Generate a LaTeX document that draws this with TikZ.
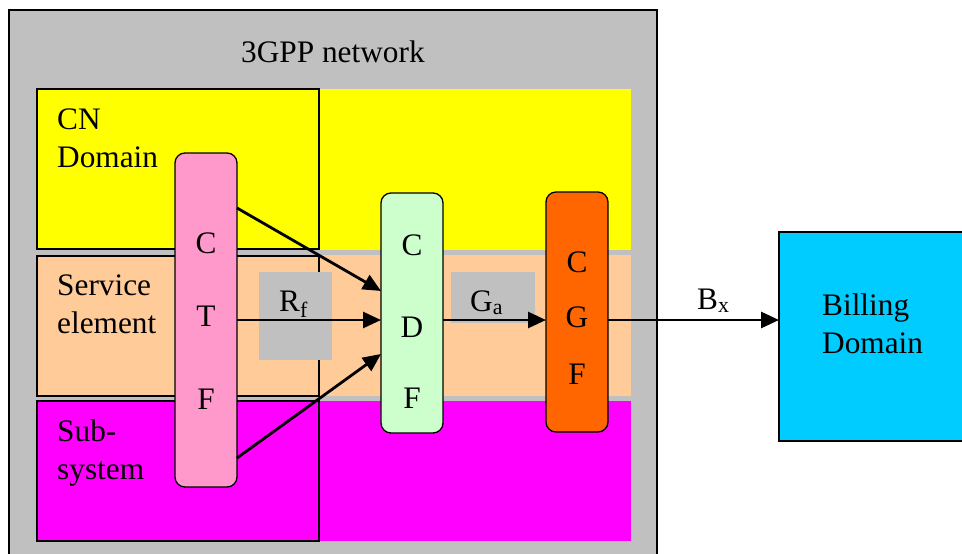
\documentclass[tikz,border=0pt]{standalone}
\usepackage{fontspec}
\setmainfont{Liberation Serif}
\usetikzlibrary{arrows.meta,calc}
\definecolor{gbg}{HTML}{C0C0C0}
\definecolor{cnyellow}{HTML}{FFFF00}
\definecolor{peach}{HTML}{FFCC99}
\definecolor{mag}{HTML}{FF00FF}
\definecolor{pinkf}{HTML}{FF99CC}
\definecolor{greenf}{HTML}{CCFFCC}
\definecolor{orangef}{HTML}{FF6600}
\definecolor{cyanf}{HTML}{00CCFF}
\begin{document}
\begin{tikzpicture}[x=1pt,y=-1pt,
  area/.style={draw=none,anchor=north west,inner sep=0,outer sep=0},
  box/.style={draw=black,line width=1.3pt,anchor=north west,inner sep=0,outer sep=0},
  fnbox/.style={box,rounded corners=10pt},
  lbl/.style={anchor=base west,inner sep=0,align=left,font=\fontsize{31.3}{37.5}\selectfont},
  letter/.style={anchor=base,inner sep=0,font=\fontsize{31.3}{37.5}\selectfont},
  arr/.style={line width=2.8pt,-{Triangle[length=18pt,width=16pt]}}]
\useasboundingbox (0,0) rectangle (962,554);
\clip (0,0) rectangle (962,554);
% outer network
\node[box,fill=gbg,minimum width=648,minimum height=580] (net) at (9,10) {};
\node[lbl] (title) at (241,62) {3GPP network};
% strips
\node[area,fill=cnyellow,minimum width=594,minimum height=161] (ystrip) at (37,89) {};
\node[area,fill=peach,minimum width=594,minimum height=141] (pstrip) at (37,255) {};
\node[area,fill=mag,minimum width=594,minimum height=140] (mstrip) at (37,401) {};
% bordered domain boxes
\node[box,fill=cnyellow,minimum width=282,minimum height=160] (cn) at (37,89) {};
\node[box,fill=peach,minimum width=282,minimum height=140] (svc) at (37,256) {};
\node[box,fill=mag,minimum width=282,minimum height=140] (sub) at (37,401) {};
\node[lbl] (cnl) at (57,167) {CN\\Domain};
\node[lbl] (svcl) at (57,333) {Service\\element};
\node[lbl] (subl) at (57,479) {Sub-\\system};
% interface label boxes
\node[area,fill=gbg,minimum width=73,minimum height=88] (rfbox) at (259,272) {};
\node[area,fill=gbg,minimum width=84,minimum height=51] (gabox) at (451,272) {};
\node[lbl] (rf) at (279,311) {R\textsubscript{f}};
\node[lbl] (ga) at (470,311) {G\textsubscript{a}};
% functions
\node[fnbox,fill=pinkf,minimum width=62,minimum height=334] (ctf) at (175,153) {};
\node[fnbox,fill=greenf,minimum width=62,minimum height=240] (cdf) at (381,193) {};
\node[fnbox,fill=orangef,minimum width=62,minimum height=240] (cgf) at (546,192) {};
\node[letter] (ctf1) at (206,253) {C};
\node[letter] (ctf2) at (206,326) {T};
\node[letter] (ctf3) at (206,409) {F};
\node[letter] (cdf1) at (412,255) {C};
\node[letter] (cdf2) at (412,337) {D};
\node[letter] (cdf3) at (412,408) {F};
\node[letter] (cgf1) at (577,272) {C};
\node[letter] (cgf2) at (577,327) {G};
\node[letter] (cgf3) at (577,384) {F};
% billing domain
\node[box,fill=cyanf,minimum width=200,minimum height=209] (bill) at (779,232) {};
\node[lbl] (billl) at (822,353) {Billing\\Domain};
\node[lbl] (bx) at (697,309) {B\textsubscript{x}};
% connectors
\coordinate (ctfa) at ($(ctf.north east)+(0,55)$);
\coordinate (ctfc) at ($(ctf.south east)+(0,-29)$);
\coordinate (cdfa) at ($(cdf.north west)+(0,98)$);
\coordinate (cdfc) at ($(cdf.north west)+(0,161)$);
\draw[arr] (ctfa) -- (cdfa);
\draw[arr] (ctf.east) -- (ctf.east -| cdf.west);
\draw[arr] (ctfc) -- (cdfc);
\draw[arr] (cdf.east |- ctf.east) -- (cgf.west |- ctf.east);
\draw[arr] (cgf.east |- ctf.east) -- (bill.west |- ctf.east);
\end{tikzpicture}
\end{document}
